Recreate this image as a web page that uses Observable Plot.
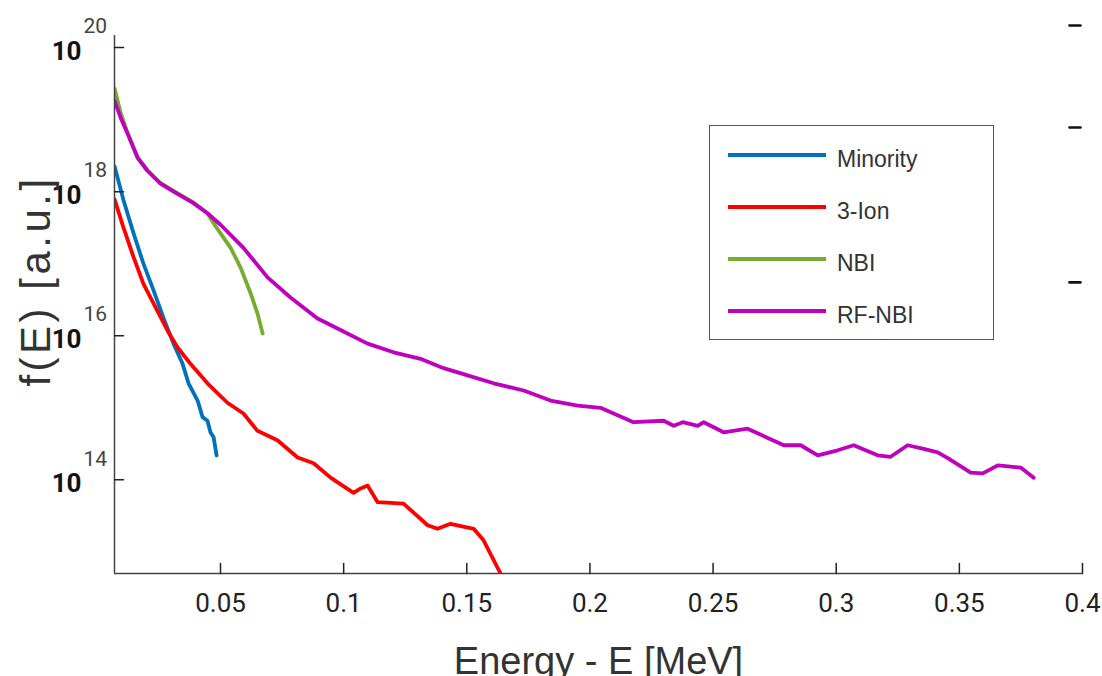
<!DOCTYPE html>
<html>
<head>
<meta charset="utf-8">
<script src="https://cdn.jsdelivr.net/npm/d3@7"></script>
<script src="https://cdn.jsdelivr.net/npm/@observablehq/plot@0.6"></script>
<style>
  body { margin: 0; background: #fff; }
  #wrap { position: relative; width: 1102px; height: 676px; overflow: hidden; background: #fff; }
  #legend {
    position: absolute; left: 709px; top: 125px; width: 285px; height: 215px;
    box-sizing: border-box; border: 1.5px solid #555; background: #fff;
    font-family: "Liberation Sans", Arial, sans-serif; padding-top: 3px;
  }
  .row { height: 52px; display: flex; align-items: center; }
  .sw { margin-left: 18px; width: 98px; height: 3.5px; }
  .lab { margin-left: 11px; font-size: 23px; color: #333; position: relative; top: 4px; }
  #ylabel {
    position: absolute; left: 36px; top: 281px; transform: translate(-50%, -50%) rotate(-90deg);
    white-space: nowrap; font-family: "Liberation Sans", Arial, sans-serif; font-size: 42px;
    letter-spacing: 3.5px; line-height: 1; color: #333;
  }
</style>
</head>
<body>
<div id="wrap"></div>
<script>
// ---- data (E in MeV, log10 f(E)) ----
const seriesNames = ["Minority", "3-Ion", "NBI", "RF-NBI"];
const seriesColors = ["#0072BD", "#FF0000", "#77AC30", "#BF00BF"];

const energyMinority = [0.0070,0.0106,0.0147,0.0187,0.0228,0.0268,0.0309,0.0346,0.0370,0.0407,0.0427,0.0447,0.0459,0.0472,0.0484];
const log10fMinority = [18.35,17.88,17.42,17.00,16.63,16.25,15.89,15.61,15.34,15.10,14.87,14.82,14.66,14.59,14.34];

const energy3Ion = [0.0070,0.0106,0.0147,0.0187,0.0228,0.0285,0.0325,0.0378,0.0447,0.0528,0.0593,0.0650,0.0731,0.0813,0.0878,0.0947,0.1040,0.1069,0.1097,0.1138,0.1243,0.1341,0.1381,0.1434,0.1528,0.1568,0.1637,0.1660];
const log10f3Ion = [17.89,17.50,17.09,16.72,16.45,16.07,15.84,15.61,15.34,15.07,14.92,14.68,14.55,14.31,14.23,14.03,13.82,13.88,13.92,13.69,13.67,13.37,13.32,13.39,13.32,13.16,12.70,12.50];

const energyNBI = [0.0070,0.0094,0.0122,0.0163,0.0203,0.0256,0.0325,0.0390,0.0447,0.0472,0.0541,0.0581,0.0622,0.0650,0.0671];
const log10fNBI = [19.43,19.10,18.82,18.48,18.30,18.12,17.98,17.85,17.70,17.56,17.22,16.95,16.59,16.31,16.03];

const energyRFNBI = [0.0070,0.0094,0.0122,0.0163,0.0203,0.0256,0.0325,0.0390,0.0447,0.0500,0.0593,0.0691,0.0784,0.0894,0.0975,0.1097,0.1203,0.1312,0.1406,0.1503,0.1609,0.1731,0.1840,0.1950,0.2043,0.2177,0.2299,0.2340,0.2377,0.2438,0.2462,0.2543,0.2640,0.2787,0.2856,0.2925,0.3006,0.3071,0.3168,0.3221,0.3290,0.3355,0.3412,0.3453,0.3546,0.3595,0.3656,0.3749,0.3802];
const log10fRFNBI = [19.26,19.03,18.81,18.47,18.29,18.11,17.97,17.84,17.70,17.54,17.22,16.81,16.53,16.24,16.10,15.89,15.77,15.68,15.55,15.45,15.34,15.24,15.10,15.03,15.00,14.80,14.82,14.75,14.80,14.75,14.80,14.66,14.71,14.48,14.48,14.34,14.41,14.48,14.34,14.32,14.48,14.43,14.38,14.30,14.10,14.09,14.20,14.17,14.03];

const xTicks = [0.05, 0.1, 0.15, 0.2, 0.25, 0.3, 0.35, 0.4];
const xTickLabels = ["0.05", "0.1", "0.15", "0.2", "0.25", "0.3", "0.35", "0.4"];
const yTickExponents = [20, 18, 16, 14];
const rightTickExponents = [20.305, 18.89, 16.74];
const xDomain = [0.00695, 0.4];
const yDomainExponents = [12.70, 20.167];

// ---- build table ----
const energies = [energyMinority, energy3Ion, energyNBI, energyRFNBI];
const logs = [log10fMinority, log10f3Ion, log10fNBI, log10fRFNBI];
const table = seriesNames.flatMap((name, s) =>
  energies[s].map((E, i) => ({ series: name, E, f: Math.pow(10, logs[s][i]) })));

// plain tick segment shape for vector marks
const tickShape = { draw(context, l) { context.moveTo(0, 0); context.lineTo(0, -l); } };

const chart = Plot.plot({
  width: 1102, height: 676,
  marginLeft: 114, marginRight: 20, marginTop: 35, marginBottom: 103,
  style: { fontFamily: "Roboto, 'DejaVu Sans', sans-serif", background: "#fff", overflow: "visible" },
  x: { domain: xDomain, axis: null },
  y: { type: "log", domain: yDomainExponents.map(e => Math.pow(10, e)), axis: null },
  color: { domain: seriesNames, range: seriesColors },
  marks: [
    Plot.line(table, { x: "E", y: "f", z: "series", stroke: "series", strokeWidth: 3.8, clip: true, strokeLinejoin: "round" }),
    Plot.ruleX([xDomain[0]], { stroke: "#444", strokeWidth: 1.5 }),
    Plot.ruleY([Math.pow(10, yDomainExponents[0])], { stroke: "#444", strokeWidth: 1.5 }),
    // inward ticks
    Plot.vector(yTickExponents, { y: d => Math.pow(10, d), frameAnchor: "left", length: 9, rotate: 90, anchor: "start", shape: tickShape, stroke: "#222", strokeWidth: 1.5 }),
    Plot.vector(xTicks, { x: d => d, frameAnchor: "bottom", length: 10, rotate: 0, anchor: "start", shape: tickShape, stroke: "#222", strokeWidth: 1.5 }),
    Plot.vector(rightTickExponents, { y: d => Math.pow(10, d), frameAnchor: "right", dx: -2, length: 11, rotate: -90, anchor: "start", shape: tickShape, stroke: "#111", strokeWidth: 2.6 }),
    // x tick labels
    Plot.text(xTicks, { x: d => d, frameAnchor: "bottom", text: (d, i) => xTickLabels[i], lineAnchor: "top", dy: 20, fontSize: 26, fill: "#222" }),
    // y tick labels 10^n
    Plot.text(yTickExponents, { y: d => Math.pow(10, d), frameAnchor: "left", text: () => "10", textAnchor: "end", dx: -33, dy: 4, fontSize: 26, fontWeight: "bold", fill: "#111" }),
    Plot.text(yTickExponents, { y: d => Math.pow(10, d), frameAnchor: "left", text: d => String(d), textAnchor: "start", dx: -31, dy: -21, fontSize: 21, fill: "#444" }),
    // x axis title
    Plot.text(["Energy - E [MeV]"], { frameAnchor: "bottom", lineAnchor: "bottom", dy: 100, fontSize: 38, fill: "#333", fontFamily: "'Liberation Sans', Arial, sans-serif" })
  ]
});

const wrap = document.getElementById("wrap");
wrap.appendChild(chart);

const ylab = document.createElement("div");
ylab.id = "ylabel";
ylab.textContent = "f(E) [a.u.]";
wrap.appendChild(ylab);

const legend = document.createElement("div");
legend.id = "legend";
seriesNames.forEach((name, i) => {
  const row = document.createElement("div");
  row.className = "row";
  const sw = document.createElement("div");
  sw.className = "sw";
  sw.style.background = seriesColors[i];
  const lab = document.createElement("span");
  lab.className = "lab";
  lab.textContent = name;
  row.appendChild(sw); row.appendChild(lab);
  legend.appendChild(row);
});
wrap.appendChild(legend);
</script>
</body>
</html>
